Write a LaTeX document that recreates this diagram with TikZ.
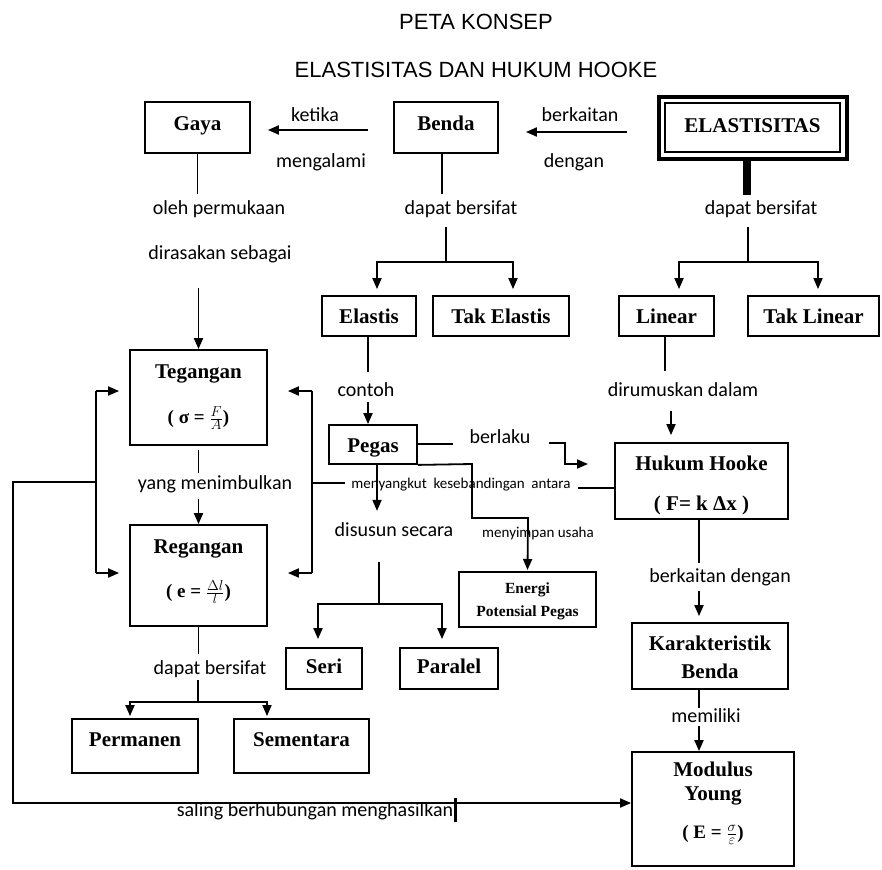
\documentclass[tikz,border=0pt]{standalone}
\usepackage{fontspec}
\setmainfont{Liberation Serif}
\newfontfamily\labelfont{Carlito}
\newfontfamily\titlefont{Liberation Sans}
\usetikzlibrary{arrows.meta}
\begin{document}
\begin{tikzpicture}[x=1pt,y=-1pt,
  conn/.style={line width=1.8pt},
  arr/.style={line width=1.8pt,-{Triangle[length=11pt,width=9pt]}},
  box/.style={draw,line width=1.8pt,inner sep=0pt},
  btxt/.style={font=\bfseries\fontsize{21}{23}\selectfont,inner sep=0pt,anchor=base,yshift=-7pt},
  ftxt/.style={font=\bfseries\fontsize{19}{21}\selectfont,inner sep=0pt},
  etxt/.style={font=\bfseries\fontsize{15.5}{17}\selectfont,inner sep=0pt,anchor=base,yshift=-5pt},
  lbl/.style={font=\labelfont\fontsize{20}{22}\selectfont,inner sep=0pt,anchor=base,yshift=-6.5pt},
  slbl/.style={font=\labelfont\fontsize{15}{17}\selectfont,inner sep=0pt,anchor=base,yshift=-5pt},
  ttl/.style={font=\titlefont\fontsize{22}{24}\selectfont,inner sep=0pt,anchor=base,yshift=-8pt}]
\useasboundingbox (0,0) rectangle (882,869);

% titles
\node[ttl] (t1) at (476,22) {PETA KONSEP};
\node[ttl] (t2) at (476,70) {ELASTISITAS DAN HUKUM HOOKE};

% boxes
\node[box,minimum width=105pt,minimum height=51pt] (gaya) at (197.5,127.5) {};
\node[btxt] (gayat) at (197.5,124) {Gaya};
\node[box,minimum width=104pt,minimum height=51pt] (benda) at (446,127.5) {};
\node[btxt] (bendat) at (446,124) {Benda};
\node[draw,line width=3.5pt,inner sep=0pt,minimum width=188pt,minimum height=62pt] (elaso) at (753,128) {};
\node[box,line width=2pt,minimum width=175pt,minimum height=49pt] (elasi) at (752.5,127.5) {};
\node[btxt] (elast) at (752.5,126) {ELASTISITAS};

\node[box,minimum width=94pt,minimum height=40pt] (elastis) at (369,316) {};
\node[btxt] (elastist) at (369,316) {Elastis};
\node[box,minimum width=136pt,minimum height=40pt] (takel) at (501,316) {};
\node[btxt] (takelt) at (501,316) {Tak Elastis};
\node[box,minimum width=95pt,minimum height=40pt] (linear) at (666.5,316) {};
\node[btxt] (lineart) at (666.5,316) {Linear};
\node[box,minimum width=131pt,minimum height=40pt] (taklin) at (813.5,316) {};
\node[btxt] (taklint) at (813.5,316) {Tak Linear};

\node[box,minimum width=137pt,minimum height=95pt] (teg) at (198.5,397.5) {};
\node[btxt] (tegt) at (198.5,371) {Tegangan};
\node[ftxt] (tegf) at (198.5,418) {( σ = $\frac{F}{A}$)};

\node[box,minimum width=88pt,minimum height=39pt] (pegas) at (373,444.5) {};
\node[btxt] (pegast) at (373,445) {Pegas};

\node[box,minimum width=173pt,minimum height=76pt] (hukum) at (701.5,481) {};
\node[btxt] (hukumt) at (701.5,463) {Hukum Hooke};
\node[btxt] (hukumf) at (701.5,503) {( F= k Δx )};

\node[box,minimum width=137pt,minimum height=101pt] (reg) at (198.5,575.5) {};
\node[btxt] (regt) at (198.5,546) {Regangan};
\node[ftxt] (regf) at (198.5,592) {( e = $\frac{\Delta l}{l}$)};

\node[box,minimum width=137pt,minimum height=55pt] (energi) at (527.5,599.5) {};
\node[etxt] (energit1) at (527.5,588) {Energi};
\node[etxt] (energit2) at (527.5,611) {Potensial Pegas};

\node[box,minimum width=76pt,minimum height=41pt] (seri) at (324,668.5) {};
\node[btxt] (serit) at (324,666) {Seri};
\node[box,minimum width=98pt,minimum height=41pt] (paralel) at (449,668.5) {};
\node[btxt] (paralelt) at (449,666) {Paralel};

\node[box,minimum width=156pt,minimum height=66pt] (karak) at (710,656) {};
\node[btxt] (karakt1) at (710,643) {Karakteristik};
\node[btxt] (karakt2) at (710,671) {Benda};

\node[box,minimum width=126pt,minimum height=54pt] (perm) at (135,746) {};
\node[btxt] (permt) at (135,739) {Permanen};
\node[box,minimum width=135pt,minimum height=54pt] (sem) at (301.5,746) {};
\node[btxt] (semt) at (301.5,739) {Sementara};

\node[box,minimum width=162pt,minimum height=114pt] (mod) at (713,809) {};
\node[btxt] (modt1) at (713,769) {Modulus};
\node[btxt] (modt2) at (713,793) {Young};
\node[ftxt] (modf) at (713,835) {( E = $\frac{\sigma}{\varepsilon}$)};

% labels
\node[lbl] (l1) at (315,115) {ketika};
\node[lbl] (l2) at (321,161) {mengalami};
\node[lbl] (l3) at (580,115) {berkaitan};
\node[lbl] (l4) at (574,161) {dengan};
\node[lbl] (l5) at (219,208) {oleh permukaan};
\node[lbl] (l6) at (220,253) {dirasakan sebagai};
\node[lbl] (l7) at (461,208) {dapat bersifat};
\node[lbl] (l8) at (761,208) {dapat bersifat};
\node[lbl] (l9) at (366,390) {contoh};
\node[lbl] (l10) at (683,390) {dirumuskan dalam};
\node[lbl] (l11) at (215,483) {yang menimbulkan};
\node[lbl] (l12) at (500,437) {berlaku};
\node[lbl] (l13) at (394,530) {disusun secara};
\node[slbl] (l14) at (538,532) {menyimpan usaha};
\node[slbl] (l15) at (461,483) {menyangkut\ \ kesebandingan\ \ antara};
\node[lbl] (l16) at (720,576) {berkaitan dengan};
\node[lbl] (l17) at (210,668) {dapat bersifat};
\node[lbl] (l18) at (706,716) {memiliki};
\node[lbl] (l19) at (315,810) {saling berhubungan menghasilkan};

% connectors top row
\draw[arr] ([xshift=-25pt,yshift=-2.5pt]benda.west) -- ([xshift=17pt,yshift=-2.5pt]gaya.east);
\draw[arr] (627,132) -- ([xshift=27pt,yshift=-4.5pt]benda.east);
\draw[conn] (gaya.south) -- ++(0,40);
\draw[arr] ([yshift=61pt]teg.north) -- (teg.north);
\draw[conn] ([xshift=-4pt]benda.south) -- ++(0,40);
\draw[conn] (446,227) -- (446,262);
\draw[arr,shorten >=6pt] (446,262) -| ([xshift=8pt]elastis.north);
\draw[arr,shorten >=6pt] (446,262) -| ([xshift=12pt]takel.north);
\draw[line width=8pt] ([xshift=-6pt]elaso.south) -- ++(0,34);
\draw[conn] (748,227) -- (748,262);
\draw[arr,shorten >=6pt] (748,262) -| ([xshift=12.5pt]linear.north);
\draw[arr,shorten >=6pt] (748,262) -| ([xshift=4.5pt]taklin.north);

% middle
\draw[conn] ([xshift=-1pt]elastis.south) -- ++(0,35);
\draw[arr] ([xshift=-5pt,yshift=22pt]pegas.north) -- ([xshift=-5pt]pegas.north);
\draw[conn] ([xshift=-1.5pt]linear.south) -- ++(0,34);
\draw[arr] ([xshift=-30.5pt,yshift=31pt]hukum.north) -- ([xshift=-30.5pt,yshift=7pt]hukum.north);
\draw[conn] ([yshift=-4pt]teg.south) -- ++(0,23);
\draw[arr] ([yshift=25pt]reg.north) -- (reg.north);

% left bracket
\coordinate (lbt) at (96,391);
\coordinate (lbb) at (96,573);
\coordinate (lbm) at (96,482);
\draw[conn] (lbt) -- (lbb);
\draw[arr] (lbt) -- ([xshift=-10pt]teg.west |- lbt);
\draw[arr] (lbb) -- ([xshift=-10pt]reg.west |- lbb);
\draw[arr] (lbm) -- (13,482) -- (13,803) -- (mod.west |- 13,803);
\draw[line width=3pt] (455,798) -- (455,822);

% right bracket
\coordinate (rbt) at (312,391);
\coordinate (rbb) at (312,573);
\draw[conn] (rbt) -- (rbb);
\draw[arr] (rbt) -- ([xshift=20pt]teg.east |- rbt);
\draw[arr] (rbb) -- ([xshift=20pt]reg.east |- rbb);
\draw[conn] (312,483) -- ([xshift=-6pt]l15.west |- 312,483);
\draw[conn] (hukum.west |- 0,488) -- (578,488);

% pegas
\draw[conn] (pegas.east |- 0,444) -- (453,444);
\draw[arr] (549,443) -- (565,443) -- (565,464) -- (588,464);
\draw[arr] ([xshift=4pt]pegas.south) -- ++(0,46);
\draw[arr] (pegas.south east) -- (472,464) -- (472,518) -- (528,518) -- (energi.north |- 0,570);
\draw[conn] (379,562) -- (379,604);
\draw[arr] (379,604) -| ([xshift=-6pt,yshift=8pt]seri.north);
\draw[arr] (379,604) -| ([xshift=-7pt,yshift=8pt]paralel.north);

% regangan bottom
\draw[conn] (reg.south) -- ++(0,27);
\draw[conn] (198,680) -- (198,702);
\draw[arr] (198,702) -| ([xshift=-5pt,yshift=2pt]perm.north);
\draw[arr] (198,702) -| ([xshift=-34.5pt,yshift=2pt]sem.north);

% hukum down
\draw[conn] ([xshift=-2.5pt]hukum.south) -- ++(0,43);
\draw[arr] ([xshift=-11pt,yshift=31pt]karak.north) -- ([xshift=-11pt,yshift=6pt]karak.north);
\draw[conn] ([xshift=-11pt]karak.south) -- ++(0,18);
\draw[arr] ([xshift=-14pt,yshift=25pt]mod.north) -- (mod.north -| 699,0);
\end{tikzpicture}
\end{document}
